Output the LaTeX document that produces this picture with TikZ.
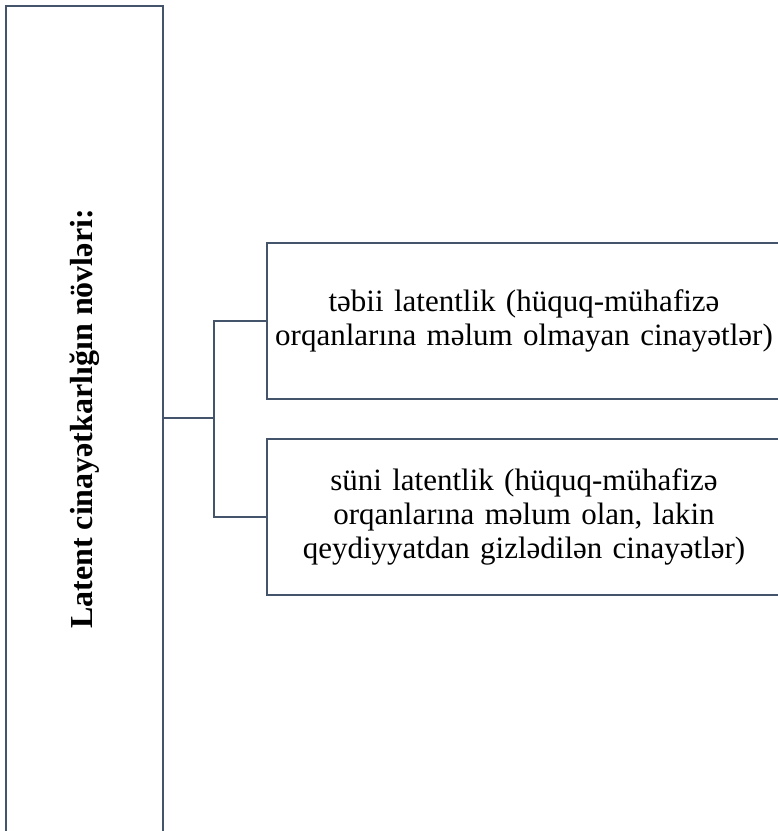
\documentclass[tikz,border=0pt]{standalone}
\usepackage{fontspec}
\setmainfont{Liberation Serif}
\definecolor{lineslate}{HTML}{44546A}
\tikzset{
  frame/.style={draw=lineslate, line width=2pt, fill=white, inner sep=0pt},
  itembox/.style={frame, minimum width=514pt, minimum height=156pt, text width=508pt, align=center, font=\fontsize{31}{34}\selectfont},
  link/.style={draw=lineslate, line width=2pt}
}
\begin{document}
\begin{tikzpicture}[x=1pt,y=-1pt]
\useasboundingbox (0,0) rectangle (778,831);
\clip (0,0) rectangle (778,831);
\node[frame, minimum width=157pt, minimum height=832pt, anchor=north west] (main) at (5,5) {};
\node[rotate=90, font=\bfseries\fontsize{32}{34}\selectfont] (title) at ([yshift=3pt]main.center) {Latent cinayətkarlığın növləri:};
\node[itembox, anchor=north west] (b1) at (266,242) {təbii latentlik (hüquq-mühafizə\\orqanlarına məlum olmayan cinayətlər)};
\node[itembox, anchor=north west] (b2) at (266,438) {süni latentlik (hüquq-mühafizə\\orqanlarına məlum olan, lakin\\qeydiyyatdan gizlədilən cinayətlər)};
\coordinate (j) at (214,418);
\draw[link] (main.east |- j) -- (j);
\draw[link] (b1.west) -| (j) |- (b2.west);
\end{tikzpicture}
\end{document}
